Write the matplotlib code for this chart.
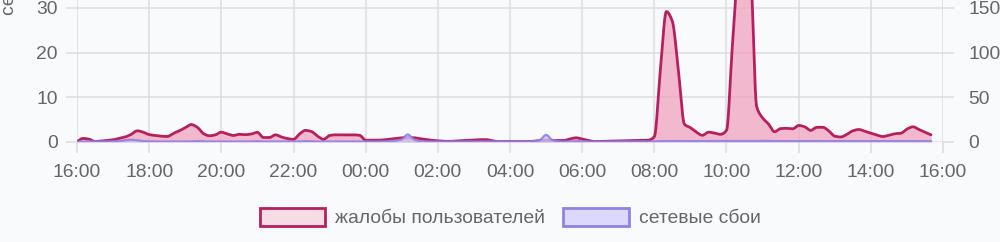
import numpy as np
import matplotlib
matplotlib.use("Agg")
import matplotlib.pyplot as plt
from matplotlib.patches import Patch

plt.rcParams['font.family'] = ['Liberation Sans', 'DejaVu Sans']

# ---- data (10-minute samples starting 16:00) ----
start_hour = 16
step_minutes = 10

complaints = [
    0.5, 4, 3.2, 0.5, 1.1, 1.7, 2.5, 4, 5.6, 8.5,
    12.5, 11, 8.3, 7.3, 6.5, 6.2, 9.5, 12.5, 16, 19.5,
    16.5, 9.5, 7, 8, 11, 9, 7.3, 8.6, 8.2, 9,
    10.8, 5, 5, 8, 5.6, 3.8, 3, 9, 13, 11.7,
    6.5, 3, 7.3, 8, 8, 8, 8, 7.5, 2, 2,
    2, 2.4, 3.1, 3.9, 4.7, 5, 4.8, 3.8, 2.8, 1.9,
    1.4, 0.8, 0.7, 1.1, 1.5, 1.9, 2.3, 2.7, 2.7, 1.5,
    0.5, 0.5, 0.5, 0.5, 0.5, 0.5, 0.9, 1.4, 2, 1.8,
    1.7, 1.7, 3.5, 4.7, 3.3, 1.8, 0.5, 0.7, 0.9, 1.0,
    1.2, 1.3, 1.5, 1.6, 1.8, 2, 6, 80, 146, 135,
    80, 20, 16, 11, 7.5, 11, 10, 8.6, 13, 110,
    190, 195, 185, 40, 27, 20, 11.5, 15, 15.3, 14.7,
    18.5, 17, 13, 16.4, 16.5, 12.5, 6.5, 5.6, 8.5, 12.5,
    14, 12, 9.8, 7.9, 6.1, 7.7, 9.2, 9.8, 14.5, 17,
    14, 11, 8,
]

outages = [
    0.1, 0.1, 0.1, 0.1, 0.1, 0.1, 0.15, 0.2, 0.4, 0.5,
    0.4, 0.2, 0.15, 0.1, 0.1, 0.1, 0.1, 0.1, 0.1, 0.15,
    0.2, 0.15, 0.1, 0.1, 0.1, 0.1, 0.1, 0.1, 0.1, 0.1,
    0.2, 0.1, 0.1, 0.1, 0.1, 0.1, 0.1, 0.15, 0.2, 0.15,
    0.1, 0.1, 0.1, 0.1, 0.1, 0.1, 0.1, 0.1, 0.1, 0.1,
    0.1, 0.1, 0.2, 0.3, 0.6, 1.7, 0.6, 0.2, 0.1, 0.1,
    0.1, 0.1, 0.1, 0.1, 0.1, 0.1, 0.1, 0.1, 0.1, 0.1,
    0.1, 0.1, 0.1, 0.1, 0.1, 0.1, 0.2, 0.5, 1.6, 0.5,
    0.2, 0.1, 0.15, 0.2, 0.15, 0.1, 0.1, 0.1, 0.1, 0.1,
    0.1, 0.1, 0.1, 0.1, 0.1, 0.1, 0.15, 0.2, 0.2, 0.2,
    0.2, 0.2, 0.2, 0.2, 0.2, 0.2, 0.2, 0.2, 0.2, 0.2,
    0.2, 0.2, 0.2, 0.2, 0.25, 0.25, 0.2, 0.2, 0.2, 0.2,
    0.2, 0.2, 0.2, 0.2, 0.2, 0.2, 0.2, 0.2, 0.2, 0.2,
    0.2, 0.2, 0.2, 0.2, 0.2, 0.2, 0.2, 0.2, 0.2, 0.2,
    0.2, 0.2, 0.2,
]

x_tick_labels = ["16:00", "18:00", "20:00", "22:00", "00:00", "02:00", "04:00",
                 "06:00", "08:00", "10:00", "12:00", "14:00", "16:00"]

left_ticks = [0, 10, 20, 30]
right_ticks = [0, 50, 100, 150]

series_names = ["жалобы пользователей", "сетевые сбои"]


def pchip(x, y, xs):
    """Monotone cubic rendering of a polyline (like a smoothed line chart)."""
    x = np.asarray(x, float)
    y = np.asarray(y, float)
    h = np.diff(x)
    d = np.diff(y) / h
    m = np.zeros_like(y)
    for i in range(1, len(y) - 1):
        if d[i - 1] * d[i] > 0:
            w1 = 2 * h[i] + h[i - 1]
            w2 = h[i] + 2 * h[i - 1]
            m[i] = (w1 + w2) / (w1 / d[i - 1] + w2 / d[i])
    m[0] = d[0]
    m[-1] = d[-1]
    idx = np.clip(np.searchsorted(x, xs) - 1, 0, len(x) - 2)
    t = (xs - x[idx]) / h[idx]
    h00 = 2 * t**3 - 3 * t**2 + 1
    h10 = t**3 - 2 * t**2 + t
    h01 = -2 * t**3 + 3 * t**2
    h11 = t**3 - t**2
    return h00 * y[idx] + h10 * h[idx] * m[idx] + h01 * y[idx + 1] + h11 * h[idx] * m[idx + 1]


W, H = 1000, 242
fig = plt.figure(figsize=(W / 100, H / 100), dpi=100)
bg = "#f9fafc"
fig.patch.set_facecolor(bg)

grid_c = "#dcdde0"
text_c = "#666666"
fs = 13.9

ax_r = fig.add_axes([77 / W, 1 - 142 / H, (943 - 77) / W, 142 / H])
ax_l = ax_r.twinx()
# left axis (outages) drawn above the right axis (complaints)
ax_l.yaxis.set_label_position("left")
ax_l.yaxis.tick_left()
ax_r.yaxis.tick_right()
ax_l.set_zorder(ax_r.get_zorder() + 1)
ax_l.patch.set_visible(False)
ax_r.set_facecolor(bg)

t = np.arange(len(complaints)) * step_minutes / 60.0
ts = np.linspace(t[0], t[-1], 3000)

c_s = np.clip(pchip(t, complaints, ts), 0, None)
o_s = np.clip(pchip(t, outages, ts), 0, None)

pink_line = "#b5205e"
pink_fill = "#f0a3bf"
purple_line = "#9082e3"
purple_fill = "#c9c1f5"

ax_r.fill_between(ts, 0, c_s, color=pink_fill, alpha=0.75, lw=0)
ax_r.plot(ts, c_s, color=pink_line, lw=2.0, solid_capstyle="round")
ax_l.fill_between(ts, 0, o_s, color=purple_fill, alpha=0.8, lw=0)
ax_l.plot(ts, o_s, color=purple_line, lw=1.6, alpha=0.9)

ymax_left = 142 / 4.467
ax_l.set_ylim(0, ymax_left)
ax_r.set_ylim(0, ymax_left * 5)
for a in (ax_l, ax_r):
    a.set_xlim(0, 24)
    for s in a.spines.values():
        s.set_visible(False)

ax_r.set_xticks(np.arange(0, 25, 2))
ax_r.set_xticklabels(x_tick_labels)
ax_r.set_yticks(right_ticks)
ax_r.set_yticklabels([str(v) for v in right_ticks])
ax_l.set_yticks(left_ticks)
ax_l.set_yticklabels([str(v) for v in left_ticks])

ax_r.grid(True, color=grid_c, lw=1.1)
ax_r.set_axisbelow(True)
ax_r.tick_params(axis="x", length=8, width=1.1, color=grid_c, labelcolor=text_c,
                 labelsize=fs, pad=8)
ax_r.tick_params(axis="y", length=8, width=1.1, color=grid_c, labelcolor=text_c,
                 labelsize=fs, pad=10)
ax_l.tick_params(axis="y", length=8, width=1.1, color=grid_c, labelcolor=text_c,
                 labelsize=fs, pad=6)

fig.text(10 / W, 1 - 15 / H, series_names[1], rotation=90, ha="center", va="bottom",
         color=text_c, fontsize=fs)

handles = [
    Patch(facecolor="#f7dbe5", edgecolor=pink_line, lw=2.0),
    Patch(facecolor="#dcd8fb", edgecolor=purple_line, lw=2.0),
]
fig.legend(handles, series_names, loc="center", bbox_to_anchor=(0.51, 1 - 217.5 / H),
           ncol=2, frameon=False, fontsize=fs, labelcolor=text_c,
           handlelength=3.4, handleheight=1.05, handletextpad=0.5, columnspacing=0.95)

fig.savefig("out.png", dpi=100, facecolor=bg)
